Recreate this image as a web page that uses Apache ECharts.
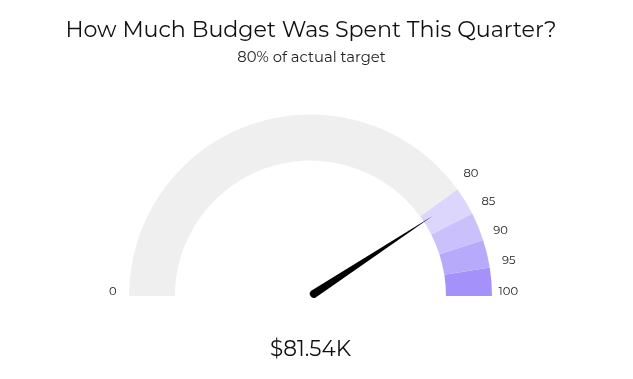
<!DOCTYPE html>
<html>
<head>
<meta charset="utf-8">
<script src="https://cdn.jsdelivr.net/npm/echarts@6/dist/echarts.min.js"></script>
<style>
html,body{margin:0;padding:0;background:#fff;}
#chart{width:633px;height:379px;}
</style>
</head>
<body>
<div id="chart"></div>
<script>
const titleText = 'How Much Budget Was Spent This Quarter?';
const subtitleText = '80% of actual target';
const gaugeMin = 0;
const gaugeMax = 100;
const bandStops = [0.8, 0.85, 0.9, 0.95, 1];
const bandColors = ['#efefef', '#dcd6fd', '#c9c0fc', '#b7aafb', '#a492fa'];
const tickLabels = [0, 80, 85, 90, 95, 100];
const value = 81.54;
const valueLabel = '$81.54K';

const fontFam = 'Montserrat, "DejaVu Sans", sans-serif';
const lblBase = {fontFamily: fontFam, fontSize: 11.5, color: '#222'};
// per-label nudges so outside labels sit like the reference
const labelStyleKey = {0: 'z', 80: 'n', 85: 'n', 90: 'd', 95: 'c', 100: 'h'};
const chart = echarts.init(document.getElementById('chart'));
chart.setOption({
  backgroundColor: '#fff',
  title: [{
    text: titleText,
    left: 306,
    textAlign: 'center',
    top: 14,
    textStyle: {fontFamily: fontFam, fontSize: 22.2, fontWeight: 'normal', color: '#111'}
  }, {
    text: subtitleText,
    left: 306.5,
    textAlign: 'center',
    top: 45,
    textStyle: {fontFamily: fontFam, fontSize: 14.8, fontWeight: 'normal', color: '#222'}
  }],
  series: [{
    type: 'gauge',
    center: [310.5, 296],
    radius: 181.5,
    startAngle: 180,
    endAngle: 0,
    min: gaugeMin,
    max: gaugeMax,
    splitNumber: 20,
    axisLine: {
      lineStyle: {
        width: 46,
        color: bandStops.map((s, i) => [s, bandColors[i]])
      }
    },
    axisTick: {show: false},
    splitLine: {show: false, length: 0},
    axisLabel: Object.assign({
      distance: -36,
      formatter: v => {
        const r = Math.round(v);
        return tickLabels.indexOf(r) >= 0 ? '{' + labelStyleKey[r] + '|' + r + '}' : '';
      },
      rich: {
        z: Object.assign({padding: [0, 0, 8, 6]}, lblBase),
        h: Object.assign({padding: [0, 0, 8, 0]}, lblBase),
        c: Object.assign({padding: [0, 0, 6, 0]}, lblBase),
        d: Object.assign({padding: [0, 0, 2, 0]}, lblBase),
        n: Object.assign({}, lblBase)
      }
    }, lblBase),
    pointer: {
      icon: 'path://M4,0 L8,142 A4,4 0 0 1 0,142 Z',
      length: 146,
      width: 8,
      offsetCenter: [0, 0],
      itemStyle: {color: '#000'}
    },
    anchor: {show: false},
    title: {show: false},
    detail: {
      offsetCenter: [0, 54],
      valueAnimation: false,
      formatter: () => valueLabel,
      fontFamily: fontFam,
      fontSize: 21.5,
      fontWeight: 'normal',
      color: '#111'
    },
    animation: false,
    data: [{value: value}]
  }]
});
</script>
</body>
</html>
